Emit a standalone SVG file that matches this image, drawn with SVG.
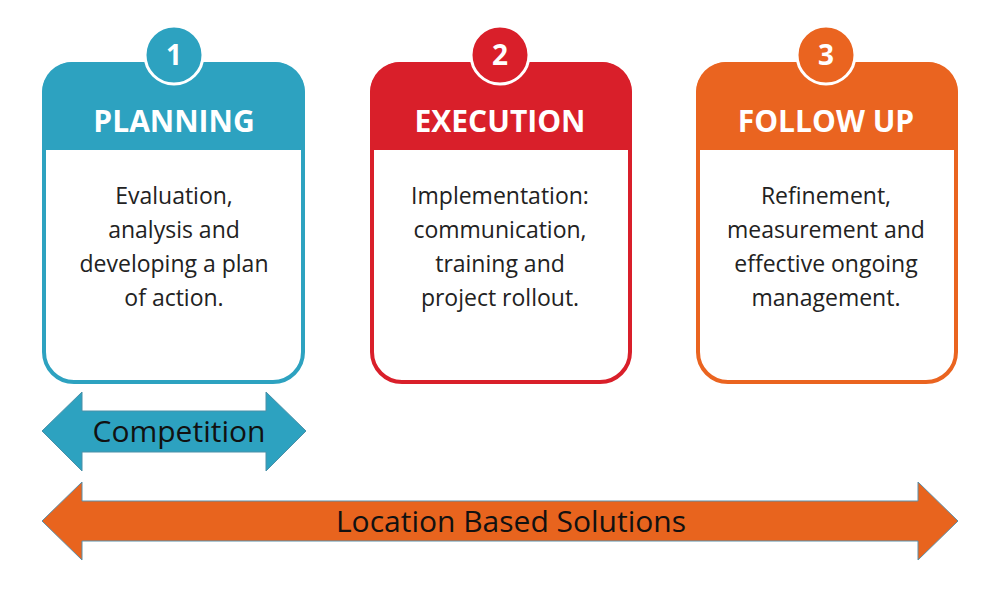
<svg xmlns="http://www.w3.org/2000/svg" width="1000" height="590" viewBox="0 0 1000 590">
<style>
.hd{font-family:"Open Sans","Liberation Sans",sans-serif;font-weight:bold;font-size:30px;fill:#fff;text-anchor:middle}
.num{font-family:"Open Sans","Liberation Sans",sans-serif;font-weight:bold;font-size:28px;fill:#fff;text-anchor:middle}
.bd{font-family:"Open Sans","Liberation Sans",sans-serif;font-size:23px;fill:#222;text-anchor:middle}
.lb{font-family:"Open Sans","Liberation Sans",sans-serif;font-size:30px;fill:#111;text-anchor:middle}
</style>
<rect width="1000" height="590" fill="#fff"/>
<g id="planning">
<rect x="44" y="64" width="259" height="318" rx="30" fill="#fff" stroke="#2DA2C0" stroke-width="4"/>
<path d="M42,150 V92 A30,30 0 0 1 72,62 H275 A30,30 0 0 1 305,92 V150 Z" fill="#2DA2C0"/>
<circle cx="174" cy="55" r="29" fill="#2DA2C0" stroke="#fff" stroke-width="3"/>
<text class="num" x="174" y="65">1</text>
<text class="hd" x="174" y="132">PLANNING</text>
<text class="bd" x="174" y="204">Evaluation,</text>
<text class="bd" x="174" y="238">analysis and</text>
<text class="bd" x="174" y="272">developing a plan</text>
<text class="bd" x="174" y="306">of action.</text>
</g>
<g id="execution">
<rect x="372" y="64" width="258" height="318" rx="30" fill="#fff" stroke="#D91F2A" stroke-width="4"/>
<path d="M370,150 V92 A30,30 0 0 1 400,62 H602 A30,30 0 0 1 632,92 V150 Z" fill="#D91F2A"/>
<circle cx="500" cy="55" r="29" fill="#D91F2A" stroke="#fff" stroke-width="3"/>
<text class="num" x="500" y="65">2</text>
<text class="hd" x="500" y="132">EXECUTION</text>
<text class="bd" x="500" y="204">Implementation:</text>
<text class="bd" x="500" y="238">communication,</text>
<text class="bd" x="500" y="272">training and</text>
<text class="bd" x="500" y="306">project rollout.</text>
</g>
<g id="followup">
<rect x="698" y="64" width="258" height="318" rx="30" fill="#fff" stroke="#EA6420" stroke-width="4"/>
<path d="M696,150 V92 A30,30 0 0 1 726,62 H928 A30,30 0 0 1 958,92 V150 Z" fill="#EA6420"/>
<circle cx="826" cy="55" r="29" fill="#EA6420" stroke="#fff" stroke-width="3"/>
<text class="num" x="826" y="65">3</text>
<text class="hd" x="826" y="132">FOLLOW UP</text>
<text class="bd" x="826" y="204">Refinement,</text>
<text class="bd" x="826" y="238">measurement and</text>
<text class="bd" x="826" y="272">effective ongoing</text>
<text class="bd" x="826" y="306">management.</text>
</g>
<g id="connectors">
<g id="competition">
<path d="M42,431 L82,392 V411 H266 V392 L306,431 L266,471 V452 H82 V471 Z" fill="#2DA2C0" stroke="#4A90A8" stroke-width="1"/>
<text class="lb" x="179" y="442">Competition</text>
</g>
<g id="location">
<path d="M42,521 L82,482 V501 H918 V482 L958,521 L918,560 V541 H82 V560 Z" fill="#E8641E" stroke="#5B8FA8" stroke-width="1"/>
<text class="lb" x="511" y="532">Location Based Solutions</text>
</g>
</g>
</svg>
